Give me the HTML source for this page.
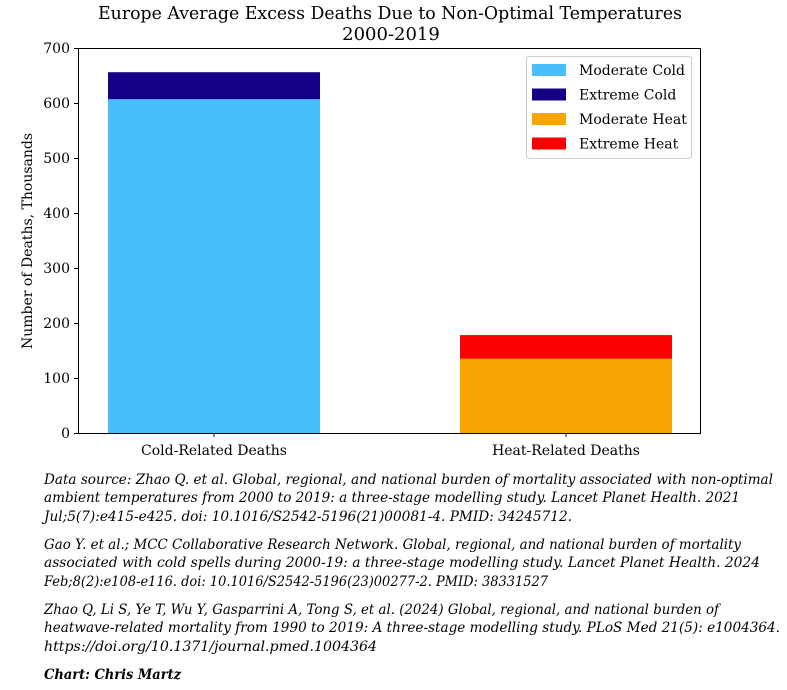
<!DOCTYPE html>
<html><head><meta charset="utf-8"><style>
body{margin:0;background:#fff;width:787px;height:690px;overflow:hidden}
svg{display:block;font-family:"DejaVu Serif","Liberation Serif",serif}
</style></head><body>
<svg id="chart" width="787" height="690" viewBox="0 0 787 690" xmlns="http://www.w3.org/2000/svg">
<text x="390" y="19" text-anchor="middle" font-size="18" textLength="584" lengthAdjust="spacingAndGlyphs">Europe Average Excess Deaths Due to Non-Optimal Temperatures</text>
<text x="391" y="40" text-anchor="middle" font-size="18">2000-2019</text>
<g id="bars"></g>
<rect x="78.5" y="48.5" width="622" height="385" fill="none" stroke="#000" stroke-width="1"/>
<g id="yaxis" font-size="14"></g>
<g id="xaxis" font-size="14"></g>
<text transform="translate(32,241) rotate(-90)" text-anchor="middle" font-size="14">Number of Deaths, Thousands</text>
<g>
<rect x="526.5" y="56.5" width="165" height="102" rx="3" fill="#fff" stroke="#ccc"/>
<g id="legend-items" font-size="14"></g>
</g>
<g font-size="14" font-style="italic">
<text x="44" y="484" textLength="729" lengthAdjust="spacingAndGlyphs">Data source: Zhao Q. et al. Global, regional, and national burden of mortality associated with non-optimal</text>
<text x="44" y="502" textLength="696" lengthAdjust="spacingAndGlyphs">ambient temperatures from 2000 to 2019: a three-stage modelling study. Lancet Planet Health. 2021</text>
<text x="44" y="521" textLength="528" lengthAdjust="spacingAndGlyphs">Jul;5(7):e415-e425. doi: 10.1016/S2542-5196(21)00081-4. PMID: 34245712.</text>
<text x="44" y="549" textLength="697" lengthAdjust="spacingAndGlyphs">Gao Y. et al.; MCC Collaborative Research Network. Global, regional, and national burden of mortality</text>
<text x="44" y="567" textLength="716" lengthAdjust="spacingAndGlyphs">associated with cold spells during 2000-19: a three-stage modelling study. Lancet Planet Health. 2024</text>
<text x="44" y="586" textLength="504" lengthAdjust="spacingAndGlyphs">Feb;8(2):e108-e116. doi: 10.1016/S2542-5196(23)00277-2. PMID: 38331527</text>
<text x="44" y="614" textLength="675" lengthAdjust="spacingAndGlyphs">Zhao Q, Li S, Ye T, Wu Y, Gasparrini A, Tong S, et al. (2024) Global, regional, and national burden of</text>
<text x="44" y="632" textLength="736" lengthAdjust="spacingAndGlyphs">heatwave-related mortality from 1990 to 2019: A three-stage modelling study. PLoS Med 21(5): e1004364.</text>
<text x="44" y="651" textLength="333" lengthAdjust="spacingAndGlyphs">https://doi.org/10.1371/journal.pmed.1004364</text>
<text x="44" y="679" font-weight="bold" textLength="137" lengthAdjust="spacingAndGlyphs">Chart: Chris Martz</text>
</g>
</svg>
<script>
const categories = ["Cold-Related Deaths", "Heat-Related Deaths"];
const seriesNames = ["Moderate Cold", "Extreme Cold", "Moderate Heat", "Extreme Heat"];
const moderateCold = [607, 0];
const extremeCold = [49, 0];
const moderateHeat = [0, 135];
const extremeHeat = [0, 43];
const yTicks = [0, 100, 200, 300, 400, 500, 600, 700];

const NS = "http://www.w3.org/2000/svg";
const colors = ["#48bdfc", "#160087", "#f9a501", "#fb0000"];
const plotX0 = 78, plotX1 = 700, plotY0 = 433, plotY1 = 48, yMax = 700;
const y = v => plotY0 - v / yMax * (plotY0 - plotY1);
const slot = (plotX1 - plotX0) / categories.length;
const barW = 212;
const xc = i => plotX0 + 30 + barW / 2 + i * 352;
function mk(tag, attrs, parent) { const e = document.createElementNS(NS, tag); for (const k in attrs) e.setAttribute(k, attrs[k]); parent.appendChild(e); return e; }

const bars = document.getElementById("bars");
const series = [moderateCold, extremeCold, moderateHeat, extremeHeat];
categories.forEach((c, i) => {
  let base = 0;
  series.forEach((s, k) => {
    const v = s[i];
    if (!v) return;
    const r = mk("rect", { x: xc(i) - barW / 2, y: y(base + v), width: barW, height: y(base) - y(base + v), fill: colors[k] }, bars);
    
    
    base += v;
  });
});

const ya = document.getElementById("yaxis");
yTicks.forEach(t => {
  const l = mk("line", { x1: plotX0 - 4, x2: plotX0, y1: y(t) + .5, y2: y(t) + .5, stroke: "#000" }, ya);
  
  
  const tx = mk("text", { x: plotX0 - 8, y: y(t) + 5, "text-anchor": "end" }, ya);
  tx.textContent = t;
  
  
});
const xa = document.getElementById("xaxis");
categories.forEach((c, i) => {
  const l = mk("line", { x1: xc(i), x2: xc(i), y1: plotY0, y2: plotY0 + 4, stroke: "#000" }, xa);
  
  
  const tx = mk("text", { x: xc(i), y: plotY0 + 22, "text-anchor": "middle" }, xa);
  tx.textContent = c;
  
  
});
const lg = document.getElementById("legend-items");
seriesNames.forEach((n, k) => {
  const yy = 64 + k * 24.5;
  const r = mk("rect", { x: 532, y: yy, width: 34, height: 12, fill: colors[k] }, lg);
  
  
  const tx = mk("text", { x: 579, y: yy + 11 }, lg);
  tx.textContent = n;
  
  
});
</script>
</body></html>
